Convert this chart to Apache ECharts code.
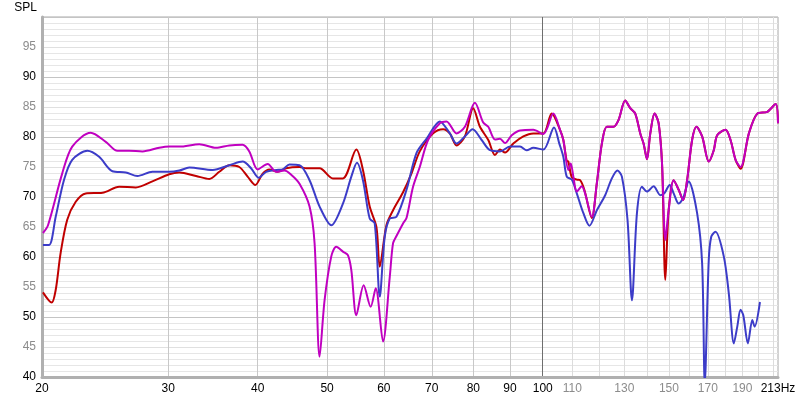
<!DOCTYPE html>
<html>
<head>
<meta charset="utf-8">
<script src="https://cdn.jsdelivr.net/npm/echarts@6/dist/echarts.min.js"></script>
<style>html,body{margin:0;padding:0;background:#fff}#c{width:800px;height:400px}</style>
</head>
<body>
<div id="c"></div>
<script>
// Frequencies (Hz) and SPL (dB)
const redFreq = [20.06,20.63,20.9,21.23,21.69,22.29,23.02,24.29,25.63,27.04,28.52,30.1,31.09,32.81,34.25,35.36,36.52,37.71,38.73,39.7,40.65,41.54,42.67,43.84,45.76,46.76,48.81,50.94,52.61,54.93,56.11,57.34,58.59,59.22,60.51,61.81,63.83,65.57,67.35,70.3,72.6,74.18,75.8,77.86,79.97,81.72,83.94,85.77,87.16,88.58,90.97,93.94,97.01,100.19,102.93,105.71,106.84,108.02,108.58,109.78,111.56,112.75,114.3,117.08,118.99,120.92,122.88,125.52,127.56,130.35,132.47,134.62,136.81,138.27,139.8,141.29,143.26,145.12,146.72,148.29,149.89,152.32,154.79,157.0,159.04,161.62,163.87,166.91,170.5,173.27,175.18,179.93,182.86,185.84,188.86,193.98,199.31,205.8,211.4,213];
const redSpl  = [54.1,52.4,54.5,60.6,66.2,69.2,70.6,70.7,71.7,71.6,72.6,73.8,74.1,73.5,73.0,74.2,75.3,75.0,73.4,72.0,73.9,74.6,74.2,74.8,75.0,74.8,74.8,73.1,73.1,77.9,74.5,68.4,65.0,58.4,65.3,67.8,70.8,73.9,77.6,80.6,81.3,80.6,78.6,80.1,84.8,81.7,79.5,77.0,77.9,77.4,78.9,80.1,80.6,80.6,83.9,81.2,79.5,76.0,75.9,73.3,72.9,72.8,71.2,66.5,72.3,78.9,81.7,81.7,82.8,86.1,84.8,83.9,80.6,78.9,76.3,80.6,83.9,82.3,75.6,56.2,67.8,72.8,71.2,69.5,72.8,79.5,81.7,80.1,75.9,77.8,80.3,81.2,79.5,76.2,74.7,80.6,83.9,84.2,85.5,82.3];

const blueFreq = [20.06,20.46,20.9,21.46,22.04,23.14,24.03,25.08,26.18,27.18,28.52,30.1,31.09,32.11,34.61,36.52,38.11,39.16,40.13,41.1,42.45,43.36,44.31,45.76,47.26,48.81,50.68,52.61,54.05,55.04,56.11,57.34,58.27,59.22,60.18,61.16,62.49,64.54,66.64,68.82,71.84,74.18,75.8,77.86,79.81,82.17,84.4,87.16,90.01,92.95,94.97,97.01,100.19,103.69,105.47,106.84,108.02,109.78,111.56,113.95,116.18,118.99,122.21,124.88,127.15,128.97,131.32,133.2,135.36,137.56,139.8,142.8,145.92,147.81,150.37,152.32,154.79,157.0,159.86,164.24,166.91,168.32,170.5,171.9,174.22,178.94,181.86,184.83,186.87,188.86,190.51,193.35,196.11,197.57,201.0];
const blueSpl  = [62.0,62.0,66.7,72.8,76.2,77.7,76.7,74.3,74.1,73.5,74.2,74.2,74.4,74.9,74.5,75.3,75.9,74.8,73.2,74.2,74.5,74.6,75.4,75.3,72.8,68.4,65.3,68.9,73.4,75.7,72.8,66.4,65.6,53.4,63.4,66.4,66.7,71.2,77.3,79.7,82.6,80.6,78.9,80.1,81.3,79.5,77.8,77.6,78.4,78.4,77.8,78.2,77.9,81.6,78.9,76.7,73.4,72.9,70.6,67.3,65.2,67.8,70.3,73.1,74.4,73.4,66.2,52.8,67.3,71.7,70.9,71.8,70.3,70.6,72.0,70.6,68.9,69.8,72.6,67.3,58.9,39.0,59.5,63.4,64.2,60.1,53.9,45.6,48.4,51.2,50.3,45.6,49.5,48.4,52.5];

const magFreq = [20.06,20.39,21.34,22.04,23.39,24.55,25.49,26.46,27.62,29.15,30.1,31.09,33.16,34.99,36.52,38.11,38.94,40.0,41.31,42.45,43.6,44.55,45.76,47.26,48.03,48.81,49.6,50.68,51.5,52.61,53.46,54.05,54.93,56.24,57.52,58.46,59.85,61.16,61.81,62.49,63.83,64.54,65.91,67.35,69.17,71.84,73.4,75.8,77.86,80.41,82.59,83.94,85.77,87.16,88.58,90.51,92.95,97.01,100.19,103.46,105.71,106.84,108.58,109.42,110.34,111.56,113.37,114.58,117.08,118.99,120.92,122.88,125.52,127.56,130.35,132.47,134.62,136.81,138.27,139.8,141.29,143.26,145.12,146.72,148.29,149.89,152.32,154.79,157.0,159.04,161.62,163.87,166.91,170.5,173.27,175.18,179.93,182.86,185.84,188.86,193.98,199.31,205.8,211.4,213];
const magSpl  = [64.0,65.3,73.9,78.4,80.7,79.2,77.7,77.7,77.6,78.2,78.4,78.4,78.8,78.2,78.6,78.7,77.6,74.6,75.5,74.2,74.4,73.7,72.2,68.4,62.3,43.4,52.8,60.1,61.7,60.9,60.3,57.8,50.3,55.3,51.7,54.8,45.9,56.7,62.3,63.5,65.6,66.5,71.7,75.0,79.5,82.3,82.6,80.6,81.7,85.7,82.4,81.7,79.6,79.7,79.0,80.3,81.1,81.2,80.5,83.9,81.2,79.5,74.5,75.6,73.4,70.9,71.8,70.6,66.7,72.3,78.9,81.7,81.7,82.8,86.1,84.8,83.9,80.6,78.9,76.3,80.6,83.9,82.3,75.6,62.8,67.8,72.8,71.2,69.5,72.8,79.5,81.7,80.1,75.9,77.8,80.3,81.2,79.5,76.2,75.0,80.6,83.9,84.2,85.5,82.3];

const xTickValues  = [20,30,40,50,60,70,80,90,100,110,120,130,140,150,160,170,180,190,200,210];
const xLabelValues = [20,30,40,50,60,70,80,90,100,110,130,150,170,190,213];
const yMin = 40, yMax = 100, yStep = 5;

const zip = (f, s) => f.map((v, i) => [v, s[i]]);
const FONT = 'Liberation Sans';

const chart = echarts.init(document.getElementById('c'), null, {renderer: 'canvas'});
chart.setOption({
  animation: false,
  backgroundColor: '#ffffff',
  grid: {left: 42, right: 22, top: 17, bottom: 23, show: true, borderColor: '#a8a8a8', borderWidth: 1},
  xAxis: {
    type: 'log', logBase: 10, min: 20, max: 213,
    axisLine: {show: true, lineStyle: {color: '#b0b0b0', width: 3}},
    axisTick: {show: false, customValues: xTickValues},
    axisLabel: {
      customValues: xLabelValues, margin: 6, fontFamily: FONT, fontSize: 12,
      formatter: v => (Number(v) === 213 ? '213Hz' : String(Math.round(Number(v)))),
      color: v => { const n = Number(v); return (n <= 100 || n === 213) ? '#000000' : '#8c8c8c'; }
    },
    splitLine: {show: true, lineStyle: {width: 1, color: [
      '#c8c8c8','#c8c8c8','#c8c8c8','#c8c8c8','#c8c8c8','#c8c8c8','#c8c8c8','#c8c8c8','#6e6e6e',
      '#dcdcdc','#dcdcdc','#dcdcdc','#dcdcdc','#dcdcdc','#dcdcdc','#dcdcdc','#dcdcdc','#dcdcdc','#dcdcdc','#dcdcdc']}},
    minorTick: {show: false}, minorSplitLine: {show: false}
  },
  yAxis: {
    type: 'value', min: yMin, max: yMax, interval: yStep,
    name: 'SPL', nameLocation: 'end', nameGap: 3,
    nameTextStyle: {fontFamily: FONT, fontSize: 12, color: '#000', align: 'right', verticalAlign: 'bottom', padding: [0, 5, 0, 0]},
    axisLine: {show: true, lineStyle: {color: '#b0b0b0', width: 3}},
    axisTick: {show: false},
    axisLabel: {
      margin: 6, fontFamily: FONT, fontSize: 12,
      formatter: v => (v >= yMax ? '' : String(v)),
      color: v => (Number(v) % 10 === 0 ? '#000000' : '#8c8c8c')
    },
    splitLine: {show: true, lineStyle: {width: 1, color: ['#c4c4c4', '#e0e0e0']}},
    minorTick: {show: false, splitNumber: 5},
    minorSplitLine: {show: true, lineStyle: {color: '#e6e6e6', width: 1}}
  },
  series: [
    {name: 'red', type: 'line', data: zip(redFreq, redSpl), showSymbol: false, smooth: 0.3, clip: true,
     lineStyle: {color: '#c00000', width: 2}, itemStyle: {color: '#c00000'}},
    {name: 'blue', type: 'line', data: zip(blueFreq, blueSpl), showSymbol: false, smooth: 0.3, clip: true,
     lineStyle: {color: '#3c3cc8', width: 2}, itemStyle: {color: '#3c3cc8'}},
    {name: 'magenta', type: 'line', data: zip(magFreq, magSpl), showSymbol: false, smooth: 0.3, clip: true,
     lineStyle: {color: '#c000c0', width: 2}, itemStyle: {color: '#c000c0'}}
  ]
});
</script>
</body>
</html>
